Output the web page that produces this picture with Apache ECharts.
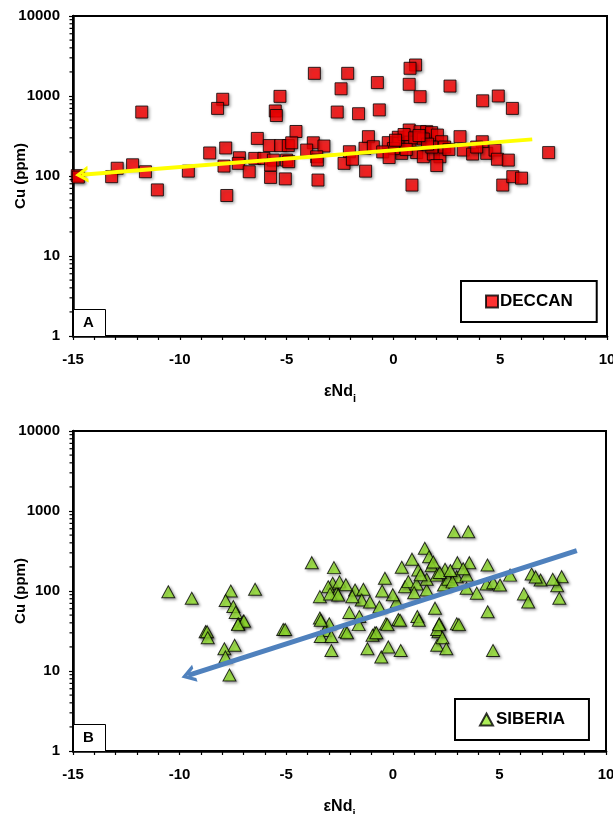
<!DOCTYPE html>
<html>
<head>
<meta charset="utf-8">
<script src="https://cdn.jsdelivr.net/npm/echarts@6/dist/echarts.min.js"></script>
<style>
html,body{margin:0;padding:0;background:#fff;}
#chart{width:613px;height:814px;}
</style>
</head>
<body>
<div id="chart"></div>
<script>
// ---------- DATA ----------
const xTicks = [-15, -10, -5, 0, 5, 10];
const yTicks = [1, 10, 100, 1000, 10000];

const deccanX = [-3.70,-7.99,-8.23,-11.78,-5.31,-5.53,-5.48,-4.56,-6.37,-5.81,-5.28,-4.92,-4.76,-3.75,-3.25,-4.06,-8.60,-7.85,-7.21,-6.49,-6.06,-5.62,-5.00,-3.59,-12.21,-12.93,-13.19,-11.61,-9.60,-7.93,-7.26,-6.75,-5.75,-5.75,-5.06,-4.90,-3.53,-3.56,-11.05,-7.80,-14.80,-14.75,
  1.04,0.78,-2.14,-2.45,-0.75,0.74,1.25,2.65,4.18,4.91,5.57,-2.63,-1.63,-0.66,-1.17,-0.24,0.23,0.74,1.25,1.56,1.79,2.06,2.26,3.12,4.16,0.26,0.78,-2.06,-1.33,-0.94,0.39,1.09,1.40,1.87,2.18,3.27,3.71,4.37,4.76,4.87,5.38,7.27,-2.31,-1.92,-1.30,2.03,0.87,5.12,5.59,6.00,
  0.50,1.00,1.40,1.80,0.00,0.60,1.60,2.40,-0.50,2.60,3.90,1.20,0.10,-0.20];
const deccanY = [1920,910,700,630,990,650,570,360,295,240,240,240,260,260,237,211,194,224,169,166,166,158,158,174,138,125,98,113,115,133,144,113,137,96,92,151,89,158,67,57,101,97,
  2440,2220,1920,1230,1470,1400,980,1330,870,1000,700,630,600,670,310,261,305,376,358,358,348,325,268,310,268,256,261,201,222,232,192,196,174,188,174,211,188,192,211,162,158,196,144,162,115,135,77,77,98,94,
  330,300,290,230,220,215,250,230,200,215,230,320,280,170];

const sibX = [-3.80,-2.76,-10.53,-9.43,-7.60,-7.84,-7.48,-7.37,-6.46,-7.01,-7.25,-8.78,-5.14,-2.82,-3.03,-3.42,-3.42,-2.98,-2.63,
  2.87,3.54,1.50,1.70,-0.37,0.42,1.19,1.82,2.45,3.03,3.59,4.44,5.50,6.51,6.93,7.92,7.71,7.81,6.15,6.35,4.45,
  -2.50,-2.94,-2.56,-1.77,-1.38,-1.46,-1.07,-0.63,-2.04,-1.57,-0.32,0.26,1.15,1.98,2.18,3.00,2.14,0.18,0.57,0.73,1.12,1.59,1.59,2.06,2.40,2.60,3.00,3.46,3.46,3.94,4.40,4.71,5.03,
  -3.18,-2.24,-0.84,-8.71,-8.68,-7.90,-7.42,-7.85,-7.66,-6.98,-7.26,-5.05,-3.38,-3.38,-2.88,-2.88,-2.15,-1.60,-1.19,-0.95,-0.77,-0.54,-0.21,-0.25,0.37,0.34,1.22,2.08,2.17,2.08,2.33,2.51,3.10,4.70,
  1.30,2.20,2.80,0.90,1.90,2.70,3.30,1.00,0.00,-0.50,-2.20,-1.90,7.50,6.70];
const sibY = [226,196,98,81,100,76,64,54,105,42,39,31,33,125,113,85,46,39,94,
  551,551,342,268,144,198,183,207,187,226,226,211,158,163,137,151,116,81,92,73,55,
  130,92,89,103,105,77,73,63,54,48,39,44,48,61,39,39,31,73,113,131,122,103,140,158,119,140,151,158,108,94,122,127,119,
  32,31,30,31,26,19,21,15,8.9,42,38,33,43,27,27,18,30,38,19,28,30,15,20,38,18,43,43,33,38,21,26,19,38,18,
  160,170,130,250,230,180,190,95,90,100,120,85,140,150];

// trend arrows: [start, end(arrow tip)]
const deccanTrendX = [6.5, -14.6];
const deccanTrendY = [287, 104];
const sibTrendX = [8.63, -9.6];
const sibTrendY = [319, 8.8];

// ---------- CHART ----------
const FONT = "'Liberation Sans', Arial, sans-serif";
const chart = echarts.init(document.getElementById('chart'), null, {renderer: 'canvas'});

const arrowPath = 'path://M0,20 L10,0 L20,20 L15.5,20 L10,9 L4.5,20 Z';

function pairs(xs, ys) { return xs.map((x, i) => [x, ys[i]]); }

function xAxisCfg(gi) {
  return {
    type: 'value', gridIndex: gi, min: xTicks[0], max: xTicks[xTicks.length - 1], interval: 5,
    name: '{a|εNd}{s|i}', nameLocation: 'middle', nameGap: 44, nameMoveOverlap: false,
    nameTextStyle: {
      rich: {
        a: {fontFamily: FONT, fontWeight: 'bold', fontSize: 16, color: '#000', lineHeight: 24, verticalAlign: 'middle'},
        s: {fontFamily: FONT, fontWeight: 'bold', fontSize: 11, color: '#000', lineHeight: 24, verticalAlign: 'bottom'}
      }
    },
    axisLine: {show: true, onZero: false, lineStyle: {color: '#000', width: 2.5}},
    axisTick: {show: true, inside: false, length: 4, lineStyle: {color: '#000', width: 1.2}},
    minorTick: {show: true, splitNumber: 5, length: 4, lineStyle: {color: '#000', width: 1.2}},
    splitLine: {show: false},
    axisLabel: {fontFamily: FONT, fontWeight: 'bold', fontSize: 15, color: '#000', margin: 16}
  };
}
function yAxisCfg(gi) {
  return {
    type: 'log', logBase: 10, gridIndex: gi, min: yTicks[0], max: yTicks[yTicks.length - 1],
    name: 'Cu (ppm)', nameLocation: 'middle', nameGap: 45, nameMoveOverlap: false,
    nameTextStyle: {fontFamily: FONT, fontWeight: 'bold', fontSize: 15, color: '#000'},
    axisLine: {show: true, onZero: false, lineStyle: {color: '#000', width: 2.5}},
    axisTick: {show: true, inside: false, length: 4, lineStyle: {color: '#000', width: 1.2}},
    minorTick: {show: false},
    splitLine: {show: false},
    axisLabel: {fontFamily: FONT, fontWeight: 'bold', fontSize: 15, color: '#000', margin: 13,
      formatter: v => String(Math.round(v))}
  };
}

// minor log ticks (2..9 of each decade), drawn through the axis scale
const minorLogValues = [];
for (let d = 1; d < 10000; d *= 10) for (let k = 2; k <= 9; k++) minorLogValues.push(k * d);

function minorTickSeries(gi) {
  return {
    type: 'custom', xAxisIndex: gi, yAxisIndex: gi, silent: true, clip: false, z: 10,
    data: minorLogValues.map(v => [xTicks[0], v]),
    renderItem: function (params, api) {
      const p = api.coord([api.value(0), api.value(1)]);
      return {type: 'line', shape: {x1: p[0] - 3.5, y1: p[1], x2: p[0], y2: p[1]},
        style: {stroke: '#000', lineWidth: 1.2}};
    }
  };
}

const shadow = {shadowBlur: 3, shadowOffsetX: 1.5, shadowOffsetY: 1.5, shadowColor: 'rgba(0,0,0,0.45)'};

const option = {
  backgroundColor: '#fff',
  animation: false,
  grid: [
    {left: 73, top: 16, width: 534, height: 320, show: true, borderColor: '#000', borderWidth: 2, backgroundColor: 'transparent', outerBoundsMode: 'none', containLabel: false},
    {left: 73, top: 431, width: 533, height: 320, show: true, borderColor: '#000', borderWidth: 2, backgroundColor: 'transparent', outerBoundsMode: 'none', containLabel: false}
  ],
  xAxis: [xAxisCfg(0), xAxisCfg(1)],
  yAxis: [yAxisCfg(0), yAxisCfg(1)],
  legend: [
    {data: ['DECCAN'], left: 461, top: 281, orient: 'horizontal', padding: [12, 24, 12, 24],
      borderColor: '#000', borderWidth: 2, itemWidth: 12, itemHeight: 12, itemGap: 0,
      textStyle: {fontFamily: FONT, fontWeight: 'bold', fontSize: 17, color: '#000', padding: [0, 0, 0, -3]}},
    {data: ['SIBERIA'], left: 455, top: 699, orient: 'horizontal', padding: [12, 24, 12, 24],
      borderColor: '#000', borderWidth: 2, itemWidth: 13, itemHeight: 12, itemGap: 0,
      textStyle: {fontFamily: FONT, fontWeight: 'bold', fontSize: 17, color: '#000', padding: [0, 0, 0, -2]}}
  ],
  graphic: [
    {type: 'rect', left: 73, top: 309, shape: {width: 32, height: 27}, style: {fill: '#fff', stroke: '#000', lineWidth: 1}, z: 5},
    {type: 'text', left: 83, top: 315, style: {text: 'A', font: 'bold 15px ' + FONT, fill: '#000'}, z: 6},
    {type: 'rect', left: 73, top: 724, shape: {width: 32, height: 27}, style: {fill: '#fff', stroke: '#000', lineWidth: 1}, z: 5},
    {type: 'text', left: 83, top: 730, style: {text: 'B', font: 'bold 15px ' + FONT, fill: '#000'}, z: 6}
  ],
  series: [
    {name: 'DECCAN', type: 'scatter', xAxisIndex: 0, yAxisIndex: 0, symbol: 'rect', symbolSize: 12,
      itemStyle: Object.assign({color: '#ff0000', borderColor: '#000', borderWidth: 1}, shadow),
      data: pairs(deccanX, deccanY), z: 3},
    {name: 'deccanTrend', type: 'line', xAxisIndex: 0, yAxisIndex: 0, data: [], z: 4,
      markLine: {silent: true, animation: false, symbol: ['none', arrowPath], symbolSize: [17, 13],
        lineStyle: {color: '#ffff00', width: 4, type: 'solid'}, label: {show: false},
        emphasis: {disabled: true},
        data: [[{coord: [deccanTrendX[0], deccanTrendY[0]]}, {coord: [deccanTrendX[1], deccanTrendY[1]]}]]}},
    {name: 'SIBERIA', type: 'scatter', xAxisIndex: 1, yAxisIndex: 1, symbol: 'triangle', symbolSize: [13, 12],
      itemStyle: Object.assign({color: '#99ea30', borderColor: '#000', borderWidth: 1}, shadow),
      data: pairs(sibX, sibY), z: 3},
    {name: 'sibTrend', type: 'line', xAxisIndex: 1, yAxisIndex: 1, data: [], z: 4,
      markLine: {silent: true, animation: false, symbol: ['none', arrowPath], symbolSize: [18, 14],
        lineStyle: {color: '#4f81bd', width: 5, type: 'solid'}, label: {show: false},
        emphasis: {disabled: true},
        data: [[{coord: [sibTrendX[0], sibTrendY[0]]}, {coord: [sibTrendX[1], sibTrendY[1]]}]]}},
    minorTickSeries(0),
    minorTickSeries(1)
  ]
};
chart.setOption(option);
</script>
</body>
</html>
